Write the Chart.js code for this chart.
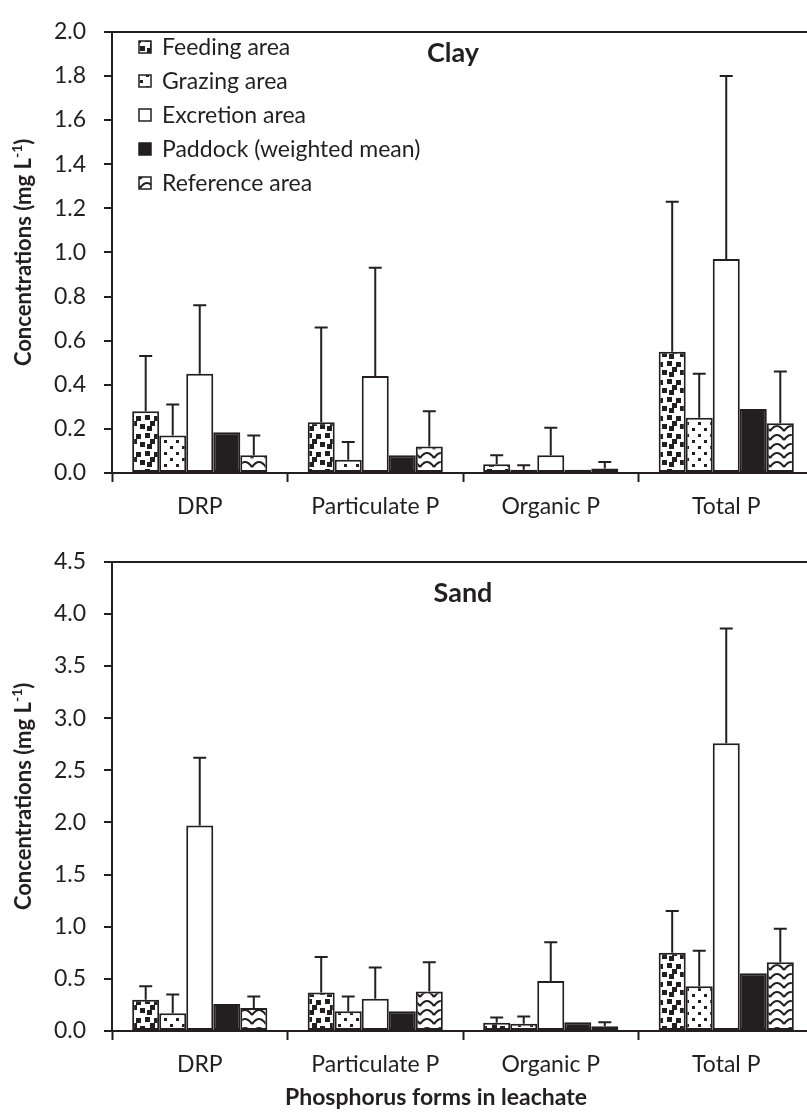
<!DOCTYPE html>
<html>
<head>
<meta charset="utf-8">
<script src="https://cdn.jsdelivr.net/npm/chart.js@4.4.1/dist/chart.umd.min.js"></script>
<style>
html, body { margin: 0; padding: 0; overflow: hidden; background: #fff; }
#clayBox { position: absolute; left: 0; top: 0; width: 822px; height: 530px; }
#sandBox { position: absolute; left: 0; top: 530px; width: 822px; height: 584px; }
</style>
</head>
<body>
<div id="clayBox"><canvas id="clayChart" width="822" height="530"></canvas></div>
<div id="sandBox"><canvas id="sandChart" width="822" height="584"></canvas></div>
<script>
// phosphorus forms and series
var categories = ["DRP", "Particulate P", "Organic P", "Total P"];
var seriesNames = ["Feeding area", "Grazing area", "Excretion area", "Paddock (weighted mean)", "Reference area"];

// clay means and error bar lengths (mg/L)
var clayFeeding = [0.28, 0.23, 0.04, 0.55];
var clayGrazing = [0.17, 0.06, 0.015, 0.25];
var clayExcretion = [0.45, 0.44, 0.08, 0.97];
var clayPaddock = [0.185, 0.08, 0.015, 0.29];
var clayReference = [0.08, 0.12, 0.02, 0.225];
var clayFeedingErr = [0.25, 0.43, 0.04, 0.68];
var clayGrazingErr = [0.14, 0.08, 0.02, 0.20];
var clayExcretionErr = [0.31, 0.49, 0.125, 0.83];
var clayReferenceErr = [0.09, 0.16, 0.03, 0.235];

// sand means and error bar lengths (mg/L)
var sandFeeding = [0.30, 0.37, 0.08, 0.75];
var sandGrazing = [0.17, 0.19, 0.07, 0.43];
var sandExcretion = [1.97, 0.31, 0.48, 2.76];
var sandPaddock = [0.26, 0.19, 0.085, 0.555];
var sandReference = [0.22, 0.38, 0.045, 0.66];
var sandFeedingErr = [0.13, 0.34, 0.05, 0.40];
var sandGrazingErr = [0.18, 0.14, 0.07, 0.34];
var sandExcretionErr = [0.65, 0.30, 0.37, 1.10];
var sandReferenceErr = [0.11, 0.28, 0.04, 0.32];

var clayTicks = { max: 2.0, step: 0.2 };
var sandTicks = { max: 4.5, step: 0.5 };

var INK = "#231f20";

Chart.defaults.font.family = "Lato";
Chart.defaults.font.size = 23;
Chart.defaults.color = INK;

function makePattern(kind) {
	var c = document.createElement("canvas");
	var g = c.getContext("2d");
	if (kind == "feeding") {
		c.width = 18; c.height = 18;
		g.fillStyle = "#fff"; g.fillRect(0, 0, 18, 18);
		g.fillStyle = INK;
		[[1, 1], [10, 2], [6, 7], [14, 10], [3, 12]].forEach(function (p) {
			g.fillRect(p[0], p[1], 5, 5);
			g.fillRect(p[0] - 18, p[1], 5, 5);
			g.fillRect(p[0], p[1] - 18, 5, 5);
		});
	} else if (kind == "grazing") {
		c.width = 12; c.height = 12;
		g.fillStyle = "#fff"; g.fillRect(0, 0, 12, 12);
		g.fillStyle = INK;
		g.fillRect(2, 2, 3, 3);
		g.fillRect(8, 8, 3, 3);
	} else if (kind == "reference") {
		c.width = 14; c.height = 9;
		g.fillStyle = "#fff"; g.fillRect(0, 0, 14, 9);
		g.strokeStyle = INK; g.lineWidth = 2.2;
		g.beginPath();
		g.moveTo(0, 8);
		g.quadraticCurveTo(7, -2, 14, 8);
		g.stroke();
	}
	return g.createPattern(c, "repeat");
}

var fills = [makePattern("feeding"), makePattern("grazing"), "#ffffff", INK, makePattern("reference")];

// error bars drawn above each bar
var errorBars = {
	id: "errorBars",
	afterDatasetsDraw: function (chart) {
		var ctx = chart.ctx;
		var y = chart.scales.y;
		ctx.save();
		ctx.strokeStyle = INK;
		ctx.lineWidth = 2;
		chart.data.datasets.forEach(function (ds, i) {
			if (!ds.errors) return;
			chart.getDatasetMeta(i).data.forEach(function (bar, j) {
				var top = y.getPixelForValue(ds.data[j]);
				var end = y.getPixelForValue(ds.data[j] + ds.errors[j]);
				ctx.beginPath();
				ctx.moveTo(bar.x, top);
				ctx.lineTo(bar.x, end);
				ctx.moveTo(bar.x - 6.5, end);
				ctx.lineTo(bar.x + 6.5, end);
				ctx.stroke();
			});
		});
		ctx.restore();
	}
};

// title, y axis title, optional legend and x title
var decorations = {
	id: "decorations",
	afterDraw: function (chart, args, opts) {
		var ctx = chart.ctx;
		var area = chart.chartArea;
		ctx.save();
		ctx.fillStyle = INK;
		ctx.textBaseline = "middle";

		ctx.font = "bold 27px Lato";
		ctx.textAlign = "center";
		ctx.fillText(opts.title, opts.titleX, opts.titleY);

		// rotated y title with superscript
		var main = "Concentrations (mg L";
		var sup = "-1";
		var tail = ")";
		ctx.font = "bold 22px Lato";
		var w1 = ctx.measureText(main).width;
		var w3 = ctx.measureText(tail).width;
		ctx.font = "bold 14px Lato";
		var w2 = ctx.measureText(sup).width;
		var total = w1 + w2 + w3;
		ctx.translate(24, (area.top + area.bottom) / 2);
		ctx.rotate(-Math.PI / 2);
		ctx.textAlign = "left";
		ctx.font = "bold 22px Lato";
		ctx.fillText(main, -total / 2, 0);
		ctx.font = "bold 14px Lato";
		ctx.fillText(sup, -total / 2 + w1, -7);
		ctx.font = "bold 22px Lato";
		ctx.fillText(tail, -total / 2 + w1 + w2, 0);
		ctx.setTransform(1, 0, 0, 1, 0, 0);

		if (opts.legend) {
			ctx.font = "23px Lato";
			ctx.textAlign = "left";
			chart.data.datasets.forEach(function (ds, i) {
				var cy = 47 + 34 * i;
				ctx.fillStyle = ds.backgroundColor;
				ctx.fillRect(139, cy - 6, 12, 12);
				ctx.strokeStyle = INK;
				ctx.lineWidth = 1.5;
				ctx.strokeRect(139, cy - 6, 12, 12);
				ctx.fillStyle = INK;
				ctx.fillText(ds.label, 162, cy + 1);
			});
		}

		if (opts.xTitle) {
			ctx.font = "bold 23px Lato";
			ctx.textAlign = "center";
			ctx.fillText(opts.xTitle, 436, opts.xTitleY);
		}
		ctx.restore();
	}
};

function buildChart(id, means, errs, ticks, xHeight, padTop, deco) {
	var datasets = seriesNames.map(function (name, i) {
		return {
			label: name,
			data: means[i],
			errors: errs[i],
			backgroundColor: fills[i],
			borderColor: INK,
			borderWidth: 2,
			borderSkipped: false,
			categoryPercentage: 0.77,
			barPercentage: 1.0
		};
	});
	return new Chart(document.getElementById(id).getContext("2d"), {
		type: "bar",
		data: { labels: categories, datasets: datasets },
		plugins: [errorBars, decorations],
		options: {
			responsive: false,
			animation: false,
			layout: { padding: { top: padTop, left: 0, right: 8, bottom: 0 } },
			plugins: {
				legend: { display: false },
				tooltip: { enabled: false },
				decorations: deco
			},
			scales: {
				x: {
					grid: {
						offset: true,
						drawOnChartArea: false,
						tickLength: 9,
						tickWidth: 2,
						tickColor: INK
					},
					border: { display: true, color: INK, width: 2 },
					ticks: { padding: 11, color: INK, font: { size: 23 } },
					afterFit: function (scale) { scale.height = xHeight; }
				},
				y: {
					min: 0,
					max: ticks.max,
					grid: {
						color: function (c) { return c.tick && c.tick.value == ticks.max ? INK : "rgba(0,0,0,0)"; },
						lineWidth: 2,
						tickLength: 8,
						tickWidth: 2,
						tickColor: INK
					},
					border: { display: true, color: INK, width: 2 },
					ticks: {
						stepSize: ticks.step,
						padding: 18,
						color: INK,
						font: { size: 23 },
						callback: function (v) { return Number(v).toFixed(1); }
					},
					afterFit: function (scale) { scale.width = 112; }
				}
			}
		}
	});
}

buildChart(
	"clayChart",
	[clayFeeding, clayGrazing, clayExcretion, clayPaddock, clayReference],
	[clayFeedingErr, clayGrazingErr, clayExcretionErr, null, clayReferenceErr],
	clayTicks, 57, 21,
	{ title: "Clay", titleX: 453, titleY: 53, legend: true }
);

buildChart(
	"sandChart",
	[sandFeeding, sandGrazing, sandExcretion, sandPaddock, sandReference],
	[sandFeedingErr, sandGrazingErr, sandExcretionErr, null, sandReferenceErr],
	sandTicks, 83, 31,
	{ title: "Sand", titleX: 463, titleY: 63, legend: false, xTitle: "Phosphorus forms in leachate", xTitleY: 568 }
);
</script>
</body>
</html>
